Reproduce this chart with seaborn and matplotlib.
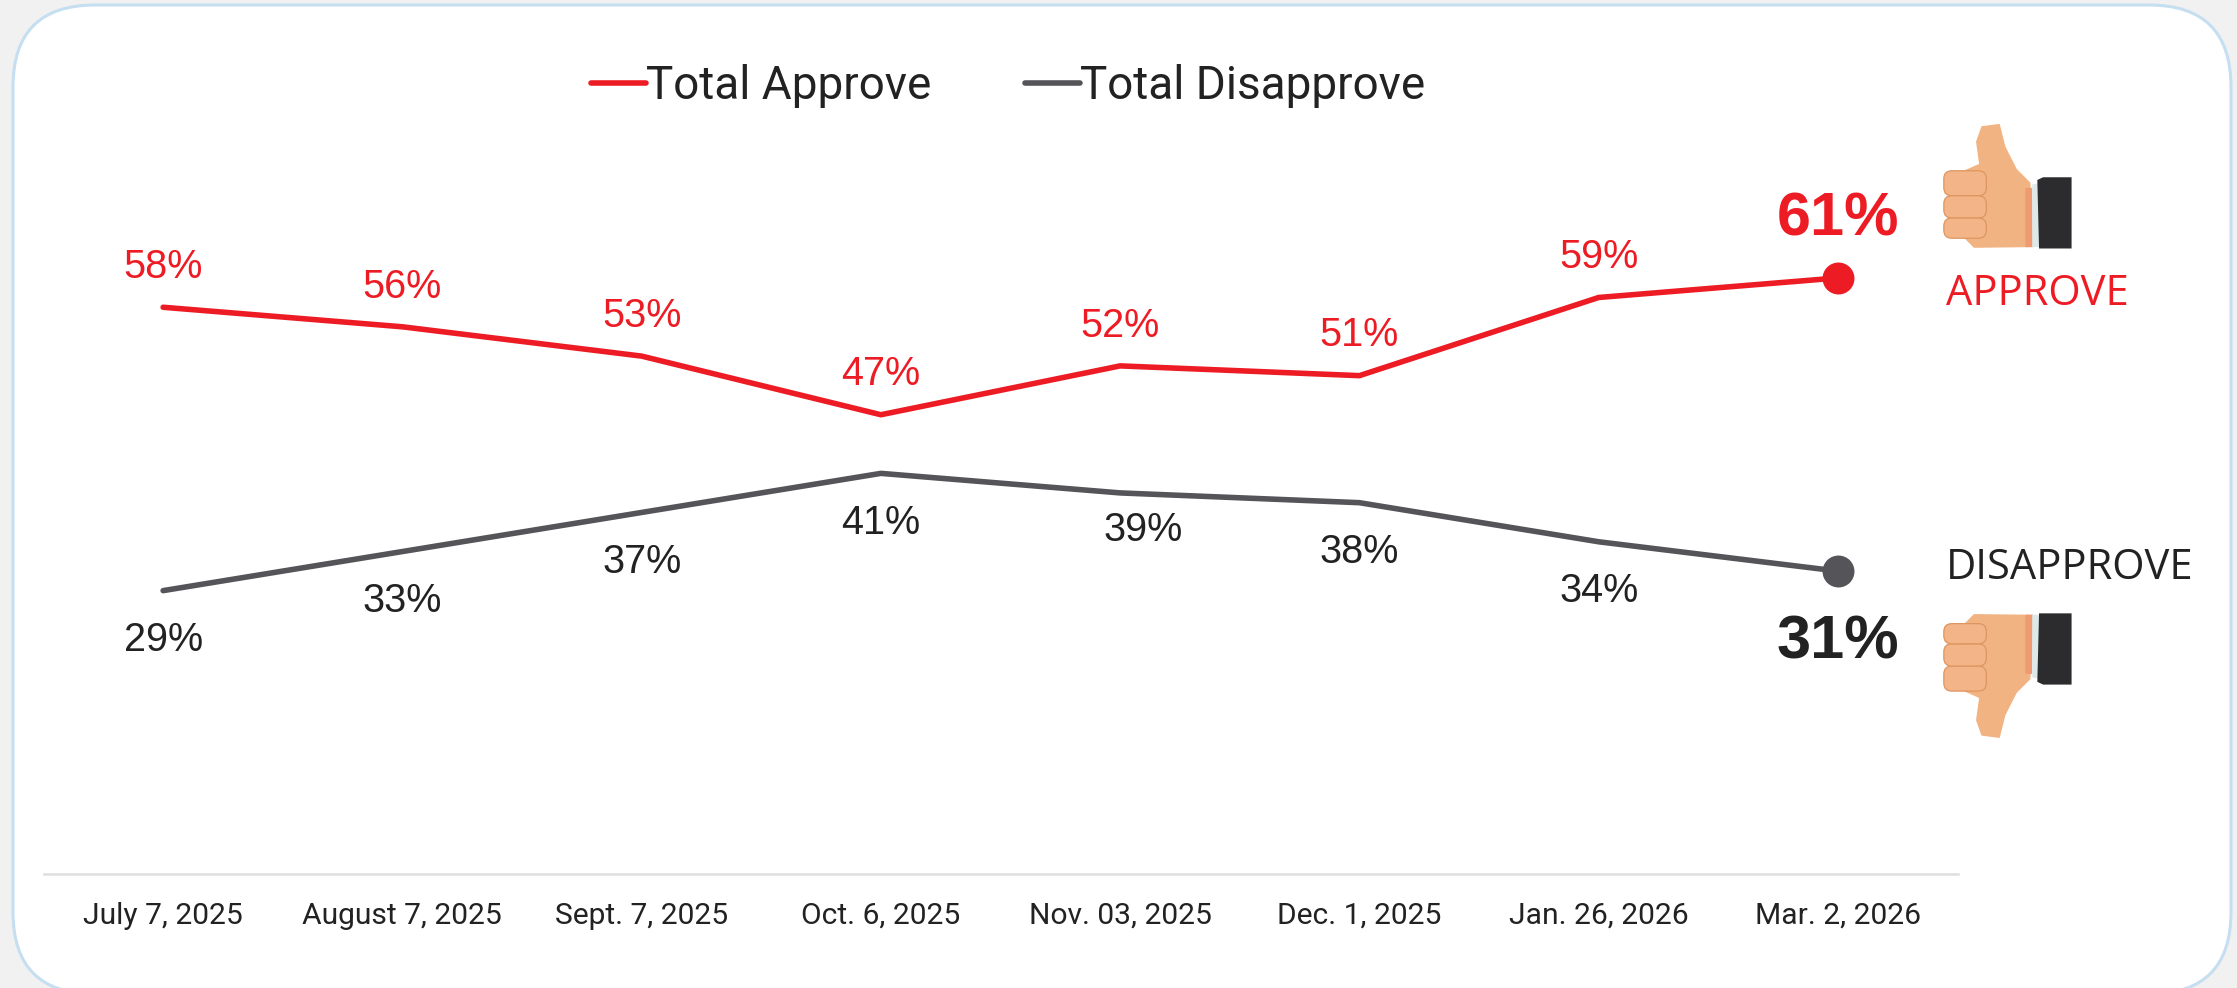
"""
approval tracker line chart
"""

import pandas as pd
import seaborn as sns
import matplotlib.pyplot as plt
from matplotlib.patches import FancyBboxPatch, Polygon, Rectangle

# Data
dates = ['July 7, 2025', 'August 7, 2025', 'Sept. 7, 2025', 'Oct. 6, 2025',
         'Nov. 03, 2025', 'Dec. 1, 2025', 'Jan. 26, 2026', 'Mar. 2, 2026']
approve = [58, 56, 53, 47, 52, 51, 59, 61]
disapprove = [29, 33, 37, 41, 39, 38, 34, 31]

# Colors
RED = '#ED1C24'
GREY = '#545459'
INK = '#222222'
palette = {'Total Approve': RED, 'Total Disapprove': GREY}

W, H = 2237, 988


def draw_card(ax):
    r = 82
    ax.add_patch(Rectangle((0, 0), W, H, color='#F1F1F1', zorder=0))
    ax.add_patch(FancyBboxPatch((13 + r, 5 + r), 2218 - 2 * r, 989 - 2 * r,
                                boxstyle=f'round,pad={r},rounding_size={r}',
                                fc='white', ec='#C5DFF1', lw=2.2, zorder=1))


def draw_thumb(ax, up=True):
    # outline is in zoomed crop units of the thumbs-up icon
    k = 2.92

    def pt(x, y):
        if up:
            return 1700 + x / k, 80 + y / k
        return 1700 + x / k, 500 + (823 - y) / k

    def poly(points, color):
        ax.add_patch(Polygon([pt(x, y) for x, y in points], closed=True,
                             fc=color, ec='none', zorder=2))

    poly([(815, 245), (806, 180), (822, 135), (875, 128), (892, 195),
          (925, 260), (965, 300), (972, 488), (800, 490), (770, 460), (770, 265)],
         '#F2B383')
    poly([(950, 315), (970, 315), (972, 488), (950, 488)], '#F09A72')
    poly([(970, 305), (996, 300), (996, 488), (970, 488)], '#DCE9E8')
    poly([(985, 292), (1002, 284), (1085, 284), (1085, 492), (990, 492)], '#2C2C2E')
    for top, bottom in [(265, 338), (338, 403), (403, 462)]:
        x0, y0 = pt(712, top)
        x1, y1 = pt(836, bottom)
        ax.add_patch(FancyBboxPatch((min(x0, x1) + 6, min(y0, y1) + 6),
                                    abs(x1 - x0) - 12, abs(y1 - y0) - 12,
                                    boxstyle='round,pad=6,rounding_size=8',
                                    fc='#F3B587', ec='#DE9560', lw=0.9, zorder=3))


sns.set_theme(style='white')
fig = plt.figure(figsize=(W / 100, H / 100), dpi=100)

back = fig.add_axes([0, 0, 1, 1], zorder=0)
back.set_xlim(0, W)
back.set_ylim(H, 0)
back.axis('off')
draw_card(back)
draw_thumb(back, up=True)
draw_thumb(back, up=False)

back.text(1946, 294, 'APPROVE', color=RED, fontsize=30, family='Open Sans',
          va='center', ha='left')
back.text(1946, 568, 'DISAPPROVE', color=INK, fontsize=30, family='Open Sans',
          va='center', ha='left')

# axes box is set so that 0% sits on the baseline and the bands match the dates
ax = fig.add_axes([43.5 / W, 1 - 874 / H, 1914 / W, 684 / H], zorder=1)
ax.patch.set_alpha(0)

df = pd.DataFrame({'date': dates * 2,
                   'value': approve + disapprove,
                   'series': ['Total Approve'] * len(dates) + ['Total Disapprove'] * len(dates)})
sns.lineplot(data=df, x='date', y='value', hue='series', palette=palette,
             sort=False, linewidth=4, ax=ax)

ax.set_xlim(-0.5, 7.5)
ax.set_ylim(0, 70)
ax.set_xlabel('')
ax.set_ylabel('')
ax.set_yticks([])
ax.set_xticks(range(len(dates)))
ax.set_xticklabels(dates, fontsize=21.6, family='Roboto', color=INK)
ax.tick_params(axis='x', length=0, pad=20)
sns.despine(ax=ax, left=True, top=True, right=True)
ax.spines['bottom'].set_color('#DEDEDE')
ax.spines['bottom'].set_linewidth(1.8)

# end markers
ax.plot(7, approve[-1], 'o', color=RED, ms=23, mec='none')
ax.plot(7, disapprove[-1], 'o', color=GREY, ms=23, mec='none')

# data labels, the 39% label is nudged off its point
below = [(0, -35.5), (0, -35.5), (0, -35.5), (0, -35.5), (16.5, -27), (0, -35.5), (0, -35.5)]
for i in range(len(dates) - 1):
    ax.annotate(f'{approve[i]}%', (i, approve[i]), xytext=(0, 29), textcoords='offset points',
                ha='center', va='center', fontsize=28.5, family='Liberation Sans', color=RED)
    ax.annotate(f'{disapprove[i]}%', (i, disapprove[i]), xytext=below[i], textcoords='offset points',
                ha='center', va='center', fontsize=28.5, family='Liberation Sans', color=INK)
ax.annotate(f'{approve[-1]}%', (7, approve[-1]), xytext=(0, 42), textcoords='offset points',
            ha='center', va='center', fontsize=44, fontweight='bold',
            family='Liberation Sans', color=RED)
ax.annotate(f'{disapprove[-1]}%', (7, disapprove[-1]), xytext=(0, -52), textcoords='offset points',
            ha='center', va='center', fontsize=44, fontweight='bold',
            family='Liberation Sans', color=INK)

# legend
leg = ax.legend(ncol=2, loc='center', bbox_to_anchor=(1008 / W, 1 - 86 / H),
                bbox_transform=fig.transFigure, frameon=False, borderpad=0,
                handlelength=1.2, handletextpad=0.0, columnspacing=2.05,
                prop={'family': 'Roboto', 'size': 33})
for text in leg.get_texts():
    text.set_color(INK)
for line in leg.get_lines():
    line.set_solid_capstyle('round')

fig.savefig('out.png', dpi=100)
